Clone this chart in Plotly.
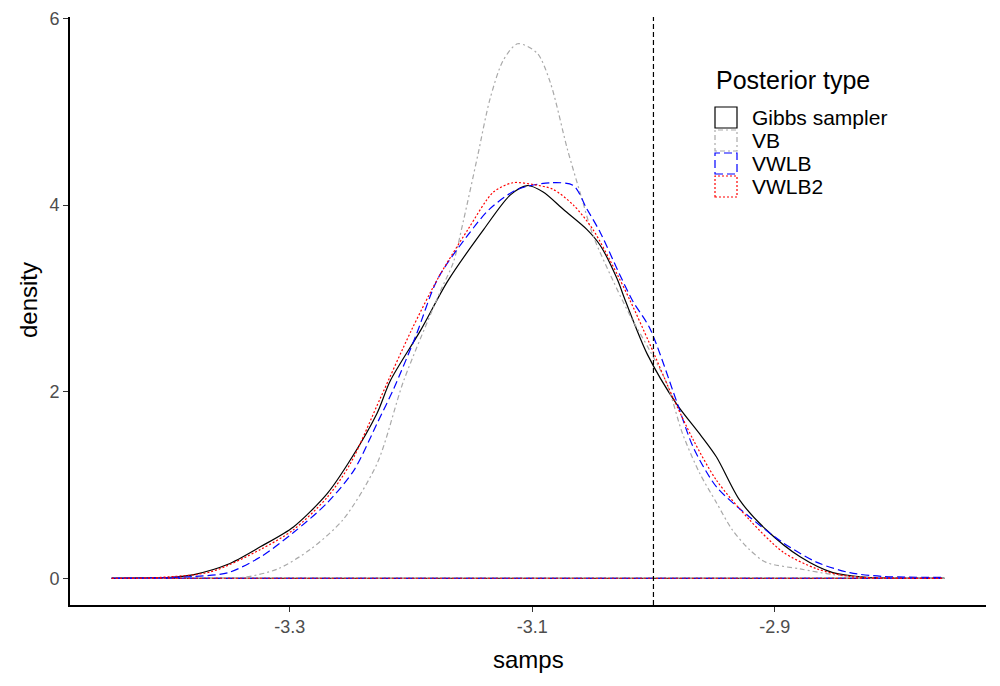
"""
Posterior density comparison: Gibbs sampler vs VB / VWLB / VWLB2.
"""

import plotly.graph_objects as go

gibbs_x = [-3.447, -3.414, -3.398, -3.379, -3.351, -3.324, -3.297, -3.269, -3.250, -3.228,
           -3.217, -3.192, -3.170, -3.140, -3.118, -3.104, -3.091, -3.074, -3.055, -3.044,
           -3.030, -3.023, -3.005, -2.981, -2.962, -2.948, -2.929, -2.907, -2.879, -2.852,
           -2.824, -2.760]
gibbs_y = [0.00, 0.005, 0.01, 0.04, 0.15, 0.34, 0.55, 0.91, 1.27, 1.77,
           2.12, 2.66, 3.18, 3.74, 4.11, 4.21, 4.14, 3.95, 3.74, 3.57,
           3.21, 2.97, 2.40, 1.87, 1.55, 1.30, 0.84, 0.52, 0.23, 0.06,
           0.01, 0.00]

vb_x = [-3.447, -3.380, -3.338, -3.310, -3.283, -3.256, -3.228, -3.206, -3.176, -3.165,
        -3.157, -3.145, -3.135, -3.124, -3.112, -3.096, -3.085, -3.071, -3.060, -3.050,
        -3.033, -3.019, -3.003, -2.989, -2.976, -2.962, -2.948, -2.935, -2.921, -2.907,
        -2.879, -2.852, -2.824, -2.760]
vb_y = [0.00, 0.00, 0.01, 0.10, 0.31, 0.63, 1.23, 2.12, 3.07, 3.39,
        3.82, 4.53, 5.13, 5.55, 5.73, 5.63, 5.31, 4.60, 4.11, 3.68,
        3.18, 2.81, 2.44, 2.09, 1.55, 1.13, 0.81, 0.52, 0.31, 0.17,
        0.10, 0.04, 0.01, 0.00]

vwlb_x = [-3.447, -3.410, -3.379, -3.351, -3.324, -3.297, -3.269, -3.247, -3.228, -3.214,
          -3.196, -3.178, -3.153, -3.135, -3.112, -3.085, -3.066, -3.055, -3.044, -3.028,
          -3.017, -3.003, -2.981, -2.967, -2.948, -2.921, -2.893, -2.865, -2.838, -2.811,
          -2.762]
vwlb_y = [0.00, 0.005, 0.02, 0.06, 0.23, 0.49, 0.81, 1.16, 1.66, 2.04,
          2.60, 3.21, 3.68, 3.96, 4.17, 4.24, 4.21, 3.96, 3.71, 3.26,
          2.97, 2.68, 1.90, 1.40, 0.98, 0.66, 0.38, 0.17, 0.06, 0.02,
          0.01]

vwlb2_x = [-3.447, -3.406, -3.365, -3.324, -3.297, -3.269, -3.250, -3.225, -3.200, -3.178,
           -3.153, -3.132, -3.116, -3.099, -3.083, -3.066, -3.050, -3.030, -3.019, -3.003,
           -2.984, -2.967, -2.948, -2.921, -2.893, -2.865, -2.838, -2.762]
vwlb2_y = [0.00, 0.01, 0.07, 0.31, 0.52, 0.87, 1.23, 1.94, 2.65, 3.21,
           3.74, 4.14, 4.24, 4.22, 4.17, 4.00, 3.74, 3.26, 2.97, 2.51,
           1.94, 1.48, 1.05, 0.63, 0.28, 0.10, 0.02, 0.00]

series_names = ["Gibbs sampler", "VB", "VWLB", "VWLB2"]
x_ticks = [-3.3, -3.1, -2.9]
y_ticks = [0, 2, 4, 6]
vline_x = -3.0

colors = ["black", "#A9A9A9", "blue", "red"]
dashes = ["solid", "2px,3px,5px,3px", "8px,4px", "2px,2px"]

fig = go.Figure()

all_x = gibbs_x + vb_x + vwlb_x + vwlb2_x
all_y = gibbs_y + vb_y + vwlb_y + vwlb2_y
xr = max(all_x) - min(all_x)
yr = max(all_y) - min(all_y)

for xs, ys, name, col, dash in zip([gibbs_x, vb_x, vwlb_x, vwlb2_x],
                                   [gibbs_y, vb_y, vwlb_y, vwlb2_y],
                                   series_names, colors, dashes):
    # curve, then the polygon bottom edge back along zero (like geom_density)
    fig.add_trace(go.Scatter(x=xs + [None, xs[-1], xs[0]],
                             y=ys + [None, 0, 0],
                             mode="lines", name=name, showlegend=False,
                             line=dict(color=col, dash=dash, width=1.2, shape="spline", smoothing=0.8)))

fig.add_vline(x=vline_x, line=dict(color="black", dash="5px,3px", width=1.2))

# the page body has an 8px margin, so the figure is drawn 8px in from the window corner
OFF = 8
W, H = 1000 - OFF, 686 - OFF
ml, mr, mt, mb = 70 - OFF, 14, 17 - OFF, 81
pw, ph = W - ml - mr, H - mt - mb


def px2paper(px, py):
    # window pixel -> paper coordinates
    return (px - OFF - ml) / pw, (H - mb - (py - OFF)) / ph


# ggplot-style legend with box keys
tx, ty = px2paper(714, 80)
fig.add_annotation(x=tx, y=ty, xref="paper", yref="paper", text="Posterior type",
                   showarrow=False, xanchor="left", yanchor="middle",
                   font=dict(size=25, color="black"))
for i, (name, col, dash) in enumerate(zip(series_names, colors, dashes)):
    cy = 117.5 + i * 23
    x0, y0 = px2paper(715, cy + 10.5)
    x1, y1 = px2paper(737, cy - 10.5)
    fig.add_shape(type="rect", xref="paper", yref="paper", x0=x0, y0=y0, x1=x1, y1=y1,
                  line=dict(color=col, dash=dash, width=1.2), fillcolor="rgba(0,0,0,0)")
    lx, ly = px2paper(750, cy)
    fig.add_annotation(x=lx, y=ly, xref="paper", yref="paper", text=name,
                       showarrow=False, xanchor="left", yanchor="middle",
                       font=dict(size=21, color="black"))

# axis titles placed by hand
sx, sy = px2paper(528, 659)
fig.add_annotation(x=sx, y=sy, xref="paper", yref="paper", text="samps", showarrow=False,
                   xanchor="center", yanchor="middle", font=dict(size=24, color="black"))
dx, dy = px2paper(28, 300)
fig.add_annotation(x=dx, y=dy, xref="paper", yref="paper", text="density", showarrow=False,
                   textangle=-90, xanchor="center", yanchor="middle",
                   font=dict(size=24, color="black"))

fig.update_xaxes(range=[min(all_x) - 0.05 * xr, max(all_x) + 0.05 * xr],
                 tickvals=x_ticks, ticktext=[str(v) for v in x_ticks], automargin=False,
                 ticklabeloverflow="allow",
                 showgrid=False, zeroline=False, showline=True, linecolor="black", linewidth=1.6,
                 ticks="outside", ticklen=5, tickcolor="#333333", tickwidth=1.2,
                 tickfont=dict(size=18, color="#4D4D4D"))
fig.update_yaxes(range=[min(all_y) - 0.05 * yr, max(all_y) + 0.05 * yr],
                 tickvals=y_ticks, automargin=False, ticklabeloverflow="allow",
                 showgrid=False, zeroline=False, showline=True, linecolor="black", linewidth=1.6,
                 ticks="outside", ticklen=5, tickcolor="#333333", tickwidth=1.2,
                 tickfont=dict(size=18, color="#4D4D4D"))

fig.update_layout(width=W, height=H, plot_bgcolor="white", paper_bgcolor="white",
                  font=dict(family="Liberation Sans, Arial, sans-serif"),
                  margin=dict(l=ml, r=mr, t=mt, b=mb), showlegend=False)

fig.write_html("out.html")
